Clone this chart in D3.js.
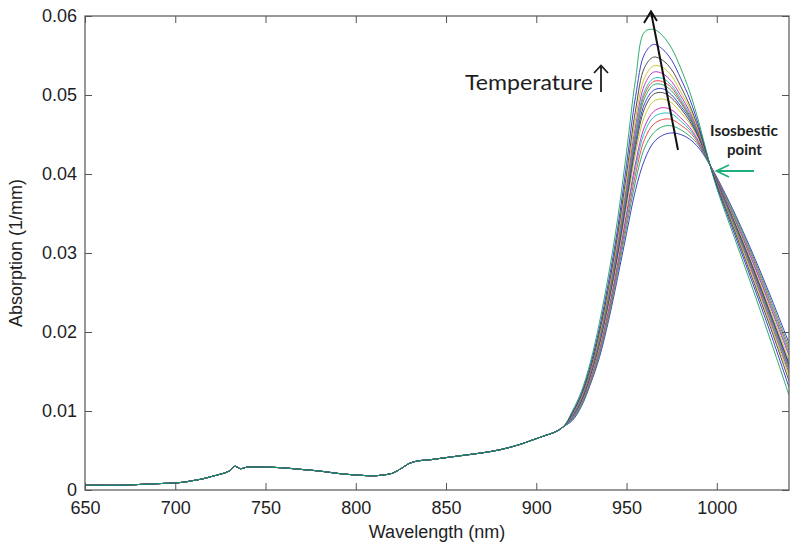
<!DOCTYPE html>
<html><head><meta charset="utf-8">
<script src="https://cdn.jsdelivr.net/npm/d3@7"></script>
<style>html,body{margin:0;padding:0;background:#fff;}svg{display:block;}</style>
</head><body>
<svg id="chart" width="800" height="552"></svg>
<script>
// ---- data ----
const baseWavelength = [650,660,670,680,690,700,705,710,715,720,725,730,733,736,740,745,750,760,770,780,790,800,810,815,820,825,830,835,840,850,860,870,880,890,900,905,910,915];
const baseAbsorption = [0.0006,0.0006,0.0006,0.0007,0.0008,0.0009,0.0010,0.0012,0.0014,0.0017,0.0020,0.0024,0.0030,0.0027,0.0029,0.0029,0.0029,0.0028,0.0026,0.0024,0.0021,0.0019,0.0018,0.0019,0.0021,0.0027,0.0034,0.0037,0.0038,0.0041,0.0044,0.0047,0.0051,0.0057,0.0065,0.0069,0.0073,0.0080];
const peakWavelength = [920,925,930,935,940,945,950,955,960,965,970,975,980,985,990,995,1000,1010,1020,1030,1040];
const curve01 = [0.0088,0.0106,0.0134,0.0168,0.0214,0.0268,0.0325,0.0380,0.0418,0.0440,0.0449,0.0452,0.0450,0.0444,0.0433,0.0416,0.0396,0.0350,0.0299,0.0244,0.0186];
const curve02 = [0.0089,0.0107,0.0136,0.0171,0.0218,0.0274,0.0333,0.0391,0.0433,0.0452,0.0460,0.0461,0.0456,0.0448,0.0436,0.0416,0.0395,0.0348,0.0296,0.0240,0.0181];
const curve03 = [0.0090,0.0109,0.0138,0.0174,0.0222,0.0279,0.0340,0.0400,0.0444,0.0463,0.0469,0.0469,0.0462,0.0453,0.0438,0.0417,0.0394,0.0345,0.0293,0.0236,0.0177];
const curve04 = [0.0090,0.0110,0.0140,0.0177,0.0226,0.0283,0.0346,0.0408,0.0453,0.0472,0.0477,0.0476,0.0467,0.0456,0.0440,0.0417,0.0393,0.0344,0.0290,0.0233,0.0173];
const curve05 = [0.0091,0.0111,0.0141,0.0179,0.0228,0.0286,0.0350,0.0414,0.0460,0.0479,0.0484,0.0481,0.0471,0.0459,0.0441,0.0418,0.0393,0.0342,0.0288,0.0230,0.0170];
const curve06 = [0.0092,0.0112,0.0143,0.0182,0.0233,0.0292,0.0359,0.0426,0.0473,0.0492,0.0495,0.0490,0.0478,0.0464,0.0444,0.0418,0.0391,0.0340,0.0284,0.0226,0.0164];
const curve07 = [0.0093,0.0113,0.0145,0.0185,0.0237,0.0297,0.0365,0.0434,0.0483,0.0501,0.0503,0.0496,0.0483,0.0467,0.0446,0.0418,0.0391,0.0338,0.0282,0.0222,0.0160];
const curve08 = [0.0093,0.0114,0.0146,0.0187,0.0239,0.0299,0.0369,0.0440,0.0489,0.0506,0.0508,0.0500,0.0486,0.0470,0.0447,0.0419,0.0390,0.0336,0.0280,0.0220,0.0158];
const curve09 = [0.0094,0.0115,0.0147,0.0189,0.0241,0.0303,0.0373,0.0446,0.0496,0.0513,0.0513,0.0505,0.0490,0.0472,0.0449,0.0419,0.0389,0.0335,0.0278,0.0218,0.0155];
const curve10 = [0.0094,0.0116,0.0148,0.0190,0.0243,0.0305,0.0377,0.0450,0.0501,0.0517,0.0517,0.0509,0.0492,0.0474,0.0450,0.0419,0.0389,0.0334,0.0277,0.0216,0.0153];
const curve11 = [0.0094,0.0116,0.0149,0.0191,0.0245,0.0307,0.0380,0.0454,0.0505,0.0521,0.0521,0.0512,0.0495,0.0476,0.0451,0.0419,0.0389,0.0333,0.0275,0.0214,0.0151];
const curve12 = [0.0095,0.0117,0.0150,0.0194,0.0248,0.0311,0.0385,0.0461,0.0513,0.0529,0.0527,0.0517,0.0499,0.0479,0.0452,0.0420,0.0388,0.0331,0.0273,0.0211,0.0148];
const curve13 = [0.0096,0.0118,0.0152,0.0196,0.0251,0.0316,0.0391,0.0470,0.0522,0.0537,0.0535,0.0524,0.0504,0.0483,0.0454,0.0420,0.0387,0.0330,0.0270,0.0208,0.0144];
const curve14 = [0.0097,0.0120,0.0154,0.0200,0.0256,0.0322,0.0400,0.0481,0.0535,0.0548,0.0544,0.0532,0.0511,0.0487,0.0457,0.0420,0.0386,0.0327,0.0266,0.0204,0.0138];
const curve15 = [0.0098,0.0122,0.0158,0.0205,0.0263,0.0330,0.0412,0.0498,0.0552,0.0564,0.0558,0.0544,0.0521,0.0495,0.0461,0.0421,0.0384,0.0323,0.0261,0.0197,0.0130];
const curve16 = [0.0100,0.0125,0.0162,0.0212,0.0272,0.0342,0.0428,0.0520,0.0580,0.0583,0.0575,0.0559,0.0534,0.0504,0.0466,0.0422,0.0382,0.0318,0.0254,0.0188,0.0120];
const peakSeries = [curve01,curve02,curve03,curve04,curve05,curve06,curve07,curve08,curve09,curve10,curve11,curve12,curve13,curve14,curve15,curve16];
const lineColors = ["#2a2ac8","#17a05a","#e83535","#10bcbc","#c21fc2","#c4c21a","#3a3a3a"];
const xTicks = [650,700,750,800,850,900,950,1000];
const yTicks = [0,0.01,0.02,0.03,0.04,0.05,0.06];
const yTickLabels = ["0","0.01","0.02","0.03","0.04","0.05","0.06"];
const xTitle = "Wavelength (nm)";
const yTitle = "Absorption (1/mm)";

// ---- chart ----
const svg = d3.select("#chart");
const L = 85, R = 789, T = 16, B = 490;
const x = d3.scaleLinear().domain([650,1040]).range([L,R]);
const y = d3.scaleLinear().domain([0,0.06]).range([B,T]);

svg.append("rect").attr("width",800).attr("height",552).attr("fill","#fff");

svg.append("clipPath").attr("id","plotclip").append("rect")
  .attr("x",L).attr("y",T-4).attr("width",R-L).attr("height",B-T+4);

const line = d3.line().x(d=>x(d.w)).y(d=>y(d.a)).curve(d3.curveCatmullRom.alpha(0.5));
const g = svg.append("g").attr("clip-path","url(#plotclip)");
peakSeries.forEach((c,i)=>{
  const pts = baseWavelength.map((w,j)=>({w:w,a:baseAbsorption[j]}))
    .concat(peakWavelength.map((w,j)=>({w:w,a:c[j]})));
  g.append("path").datum(pts).attr("d",line)
    .attr("fill","none").attr("stroke",lineColors[i%7]).attr("stroke-width",0.9);
});

const axisColor = "#555";
const tickFont = "'Liberation Sans', Arial, sans-serif";
function styleAxis(sel){
  sel.selectAll(".domain").remove();
  sel.selectAll(".tick line").attr("stroke",axisColor);
  sel.selectAll(".tick text").attr("fill","#1e1e1e").style("font-family",tickFont).style("font-size","18px");
}
svg.append("g").attr("transform",`translate(0,${B})`)
  .call(d3.axisBottom(x).tickValues(xTicks).tickSizeInner(-7).tickSizeOuter(0).tickPadding(11).tickFormat(d3.format("d")))
  .call(styleAxis);
svg.append("g").attr("transform",`translate(0,${T})`)
  .call(d3.axisTop(x).tickValues(xTicks).tickSizeInner(-7).tickSizeOuter(0).tickFormat(""))
  .call(styleAxis);
svg.append("g").attr("transform",`translate(${L},0)`)
  .call(d3.axisLeft(y).tickValues(yTicks).tickSizeInner(-7).tickSizeOuter(0).tickPadding(8).tickFormat((d,i)=>yTickLabels[i]))
  .call(styleAxis);
svg.append("g").attr("transform",`translate(${R},0)`)
  .call(d3.axisRight(y).tickValues(yTicks).tickSizeInner(-7).tickSizeOuter(0).tickFormat(""))
  .call(styleAxis);

svg.append("rect").attr("x",L).attr("y",T).attr("width",R-L).attr("height",B-T)
  .attr("fill","none").attr("stroke",axisColor).attr("stroke-width",1.2);

svg.append("text").attr("x",(L+R)/2).attr("y",538).attr("text-anchor","middle")
  .style("font-family",tickFont).style("font-size","18px").attr("fill","#1e1e1e").text(xTitle);
svg.append("text").attr("transform",`translate(22,${(T+B)/2}) rotate(-90)`).attr("text-anchor","middle")
  .style("font-family",tickFont).style("font-size","18px").attr("fill","#1e1e1e").text(yTitle);

// ---- annotations ----
svg.append("text").attr("x",465).attr("y",90).attr("textLength",128).attr("lengthAdjust","spacingAndGlyphs")
  .style("font-family","Lato, 'Open Sans', sans-serif").style("font-size","22px").attr("fill","#1e1e1e").text("Temperature");
svg.append("path").attr("d","M601,92 L601,66 M594,73 L601,65.5 L608,73")
  .attr("fill","none").attr("stroke","#1e1e1e").attr("stroke-width",1.8);

// black arrow through the peaks
svg.append("path").attr("d","M678,150 L651,12 M644,23 L651,11.5 L657,21")
  .attr("fill","none").attr("stroke","#111").attr("stroke-width",2);

svg.append("text").attr("x",710).attr("y",135.5).attr("textLength",68).attr("lengthAdjust","spacingAndGlyphs")
  .style("font-family","Lato, 'Open Sans', sans-serif").style("font-weight","bold").style("font-size","15px").attr("fill","#1e1e1e").text("Isosbestic");
svg.append("text").attr("x",744.5).attr("y",155).attr("text-anchor","middle")
  .style("font-family","Lato, 'Open Sans', sans-serif").style("font-weight","bold").style("font-size","15px").attr("fill","#1e1e1e").text("point");
svg.append("path").attr("d","M754,171 L717,171 M729,165 L716.5,171 L729,177")
  .attr("fill","none").attr("stroke","#1fae7f").attr("stroke-width",1.8);
</script>
</body></html>
